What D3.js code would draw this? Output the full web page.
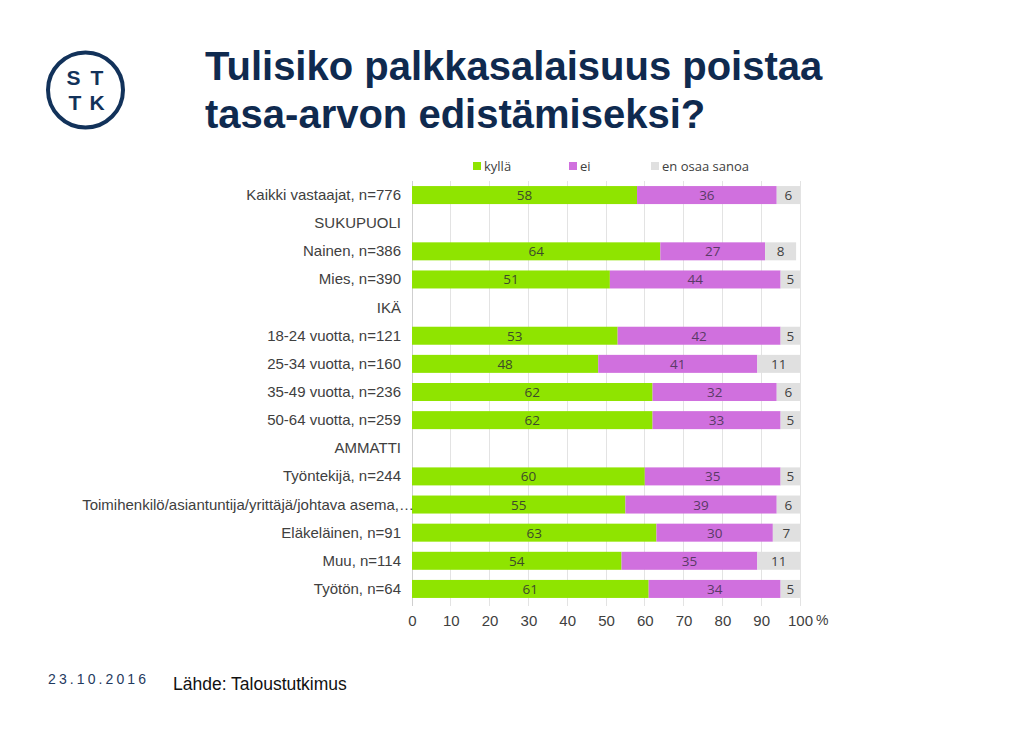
<!DOCTYPE html>
<html><head><meta charset="utf-8">
<script src="https://cdn.jsdelivr.net/npm/d3@7"></script>
<style>body{margin:0;background:#fff}svg{display:block}</style>
</head><body>
<script>
const categories = ["Kaikki vastaajat, n=776","SUKUPUOLI","Nainen, n=386","Mies, n=390","IKÄ","18-24 vuotta, n=121","25-34 vuotta, n=160","35-49 vuotta, n=236","50-64 vuotta, n=259","AMMATTI","Työntekijä, n=244","Toimihenkilö/asiantuntija/yrittäjä/johtava asema,…","Eläkeläinen, n=91","Muu, n=114","Työtön, n=64"];
const kylla = [58,null,64,51,null,53,48,62,62,null,60,55,63,54,61];
const ei    = [36,null,27,44,null,42,41,32,33,null,35,39,30,35,34];
const eos   = [6,null,8,5,null,5,11,6,5,null,5,6,7,11,5];
const seriesNames = ["kyllä","ei","en osaa sanoa"];
const xTicks = [0,10,20,30,40,50,60,70,80,90,100];

const W=1024,H=731;
const svg=d3.select("body").append("svg").attr("width",W).attr("height",H);
const navy="#0f2a4f";
const arial="Liberation Sans, Arial, sans-serif";

// logo
const logo=svg.append("g");
logo.append("circle").attr("cx",85.5).attr("cy",90).attr("r",37.5).attr("fill","none").attr("stroke","#12325a").attr("stroke-width",4);
[["S",73.5,85],["T",97,85],["T",75,110],["K",97,110]].forEach(([t,x,y])=>{
  logo.append("text").attr("x",x).attr("y",y).attr("text-anchor","middle").attr("font-family",arial).attr("font-weight","bold").attr("font-size",21).attr("fill","#12325a").text(t);
});

// title
svg.append("text").attr("x",205).attr("y",80).attr("font-family",arial).attr("font-weight","bold").attr("font-size",40).attr("fill",navy).text("Tulisiko palkkasalaisuus poistaa");
svg.append("text").attr("x",205).attr("y",128).attr("font-family",arial).attr("font-weight","bold").attr("font-size",40).attr("fill",navy).text("tasa-arvon edistämiseksi?");

const colors=["#8fe400","#d070de","#e0e0e0"];
const labelColors=["#3d4a2a","#5a3a66","#404040"];

const x=d3.scaleLinear().domain([0,100]).range([412,800]);
const y=d3.scaleBand().domain(categories).range([181,603]).paddingInner(0.36).paddingOuter(0.18);

// gridlines
svg.append("g").selectAll("line").data(xTicks).join("line")
  .attr("x1",d=>x(d)).attr("x2",d=>x(d)).attr("y1",181).attr("y2",606)
  .attr("stroke",d=>d===0?"#cfcfcf":"#e3e3e3").attr("stroke-width",1).attr("shape-rendering","crispEdges");

// bars
const rows=categories.map((c,i)=>({c,vals:[kylla[i],ei[i],eos[i]]})).filter(r=>r.vals[0]!==null);
rows.forEach(r=>{
  let acc=0;
  r.vals.forEach((v,j)=>{
    const x0=acc; acc+=v;
    svg.append("rect").attr("x",x(x0)).attr("y",y(r.c)).attr("width",x(acc)-x(x0)).attr("height",y.bandwidth()).attr("fill",colors[j]);
    svg.append("text").attr("x",(x(x0)+x(acc))/2).attr("y",y(r.c)+y.bandwidth()/2+5)
      .attr("text-anchor","middle").attr("font-family","Open Sans, sans-serif").attr("font-size",13.5).attr("fill",labelColors[j]).text(v);
  });
});

// y labels
svg.append("g").selectAll("text").data(categories).join("text")
  .attr("x",d=>d.length>40?414:401).attr("y",d=>y(d)+y.bandwidth()/2+5)
  .attr("text-anchor","end").attr("font-family",arial).attr("font-size",15).attr("fill","#404040").text(d=>d);

// x axis
const ax=svg.append("g").attr("transform","translate(0,606)").call(d3.axisBottom(x).tickValues(xTicks).tickSize(0).tickPadding(9));
ax.select(".domain").remove();
ax.selectAll("text").attr("font-family",arial).attr("font-size",15).attr("fill","#404040");
svg.append("text").attr("x",816).attr("y",625).attr("font-family",arial).attr("font-size",14).attr("fill","#404040").text("%");

// legend
const lx=[473,569,651];
seriesNames.forEach((n,i)=>{
  svg.append("rect").attr("x",lx[i]).attr("y",162).attr("width",8).attr("height",8).attr("fill",colors[i]);
  svg.append("text").attr("x",lx[i]+11).attr("y",171).attr("font-family","Open Sans, sans-serif").attr("font-size",13).attr("fill","#404040").text(n);
});

// footer
svg.append("text").attr("x",48).attr("y",684).attr("font-family",arial).attr("font-size",14).attr("letter-spacing",3.1).attr("fill","#1f3a60").text("23.10.2016");
svg.append("text").attr("x",173).attr("y",690).attr("font-family",arial).attr("font-size",17.5).attr("fill","#111").text("Lähde: Taloustutkimus");
</script>
</body></html>
